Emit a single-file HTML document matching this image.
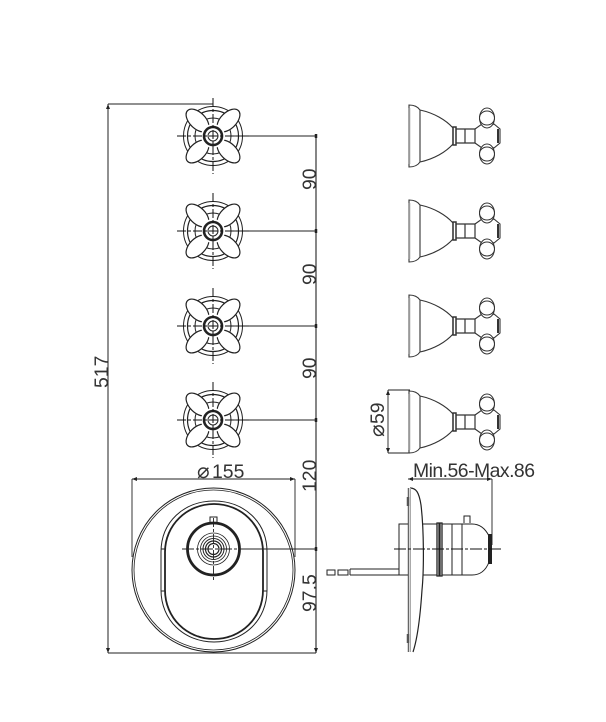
<!DOCTYPE html>
<html><head><meta charset="utf-8"><style>
html,body{margin:0;padding:0;background:#fff}
svg{display:block}
text{font-family:"Liberation Sans",sans-serif;font-size:19.4px;fill:#333}
</style></head><body>
<svg width="606" height="722" viewBox="0 0 606 722" xmlns="http://www.w3.org/2000/svg">
<defs>
<g id="f" fill="none" stroke="#222" stroke-width="1">
  <circle r="29.5"/><circle r="25.5" stroke-width="1.2"/><circle r="18"/>
  <g fill="#fff" stroke-width="1.2">
    <ellipse cx="15.500" cy="-15.500" rx="14" ry="8" transform="rotate(-45 15.500 -15.500)"/>
    <ellipse cx="-15.500" cy="-15.500" rx="14" ry="8" transform="rotate(45 -15.500 -15.500)"/>
    <ellipse cx="15.500" cy="15.500" rx="14" ry="8" transform="rotate(45 15.500 15.500)"/>
    <ellipse cx="-15.500" cy="15.500" rx="14" ry="8" transform="rotate(-45 -15.500 15.500)"/>
  </g>
  <circle r="12" fill="#fff" stroke="none"/>
  <circle r="9" stroke-width="2.6"/>
  <circle r="5" fill="#fff"/>
  <path d="M-36 0H36M0-38V38" stroke-dasharray="9 2 3 2" stroke="#111"/>
</g>
<g id="s" fill="none" stroke="#333" stroke-width="1">
  <path d="M409 -31C414 -31 418 -29 420 -26V26C418 29 414 31 409 31Z" stroke-width="1.1"/>
  <path d="M409.500 -28V28" stroke="#999" stroke-width="1.500"/>
  <path d="M420 -26C434 -23 446 -16 453 -8V8C446 16 434 23 420 26" stroke-width="1.1"/>
  <path d="M453 -9H456V9H453Z" stroke-width="1.500"/>
  <path d="M456 -7H475V7H456M465 -7V7" stroke-width="1.200"/>
  <path d="M475 -7L482 -12C486 -10 490 -10 494 -12L500 -7V7L494 12C490 10 486 10 482 12L475 7" stroke-width="1.100"/>
  <path d="M498 -7V7" stroke-width="2"/>
  <ellipse cx="487" cy="-18" rx="7.500" ry="10" fill="#fff"/>
  <ellipse cx="487" cy="18" rx="7.500" ry="10" fill="#fff"/>
  <ellipse cx="487" cy="-18" rx="7.500" ry="7"/>
  <ellipse cx="487" cy="18" rx="7.500" ry="7"/>
</g>
</defs>

<g stroke="#222" stroke-width="1" fill="none">
  <path d="M108 104V653M108 104H213M108 653H316"/>
  <path d="M316 136V653" stroke-width="1.100"/>
  <path d="M213 136H316M213 231H316M213 326H316M213 420H316M213 549H316"/>
  <path d="M132 479V557M295 479V557M132 479H295" stroke-width=".9"/>
  <path d="M408 479H492M492 479V545" stroke-width=".9"/>
  <path d="M388 390V453M388 390H410M388 453H410" stroke-width=".9"/>
  <path d="M316 134V138M316 229V233M316 324V328M316 418V422M316 547V551" stroke-width="2.500"/>
</g>
<g fill="#222">
  <path d="M108 104l-2 5h4zM108 653l-2-5h4zM132 479l5-2v4zM295 479l-5-2v4zM408 479l5-2v4zM492 479l-5-2v4zM388 390l-2 5h4zM388 453l-2-5h4zM316 653l-2-5h4z"/>
</g>

<use href="#f" x="213" y="136"/>
<use href="#f" x="213" y="231"/>
<use href="#f" x="213" y="326"/>
<use href="#f" x="213" y="420"/>

<use href="#s" x="0" y="136"/>
<use href="#s" x="0" y="231"/>
<use href="#s" x="0" y="326"/>
<use href="#s" x="0" y="422"/>

<!-- plate front -->
<g fill="none" stroke="#222">
  <ellipse cx="213.500" cy="570" rx="81.500" ry="82" stroke-width="1"/>
  <ellipse cx="213.500" cy="570" rx="79.500" ry="80" stroke-width=".8"/>
  <path d="M161 552C161 522 184 501 214 501C244 501 267 522 267 552V590C267 620 244 642 214 642C184 642 161 620 161 590Z" stroke-width="1"/>
  <path d="M165 552C165 525 187 504 214 504C241 504 263 525 263 552V590C263 618 241 639 214 639C187 639 165 618 165 590Z" stroke-width="1.800"/>
  <path d="M161 549H165M263 549H267M161 591H165M263 591H267" stroke-width="1"/>
  <path d="M210 522V517H217V522" stroke-width="1" fill="#fff"/>
  <circle cx="213.500" cy="549" r="26" stroke-width="2.800" fill="#fff"/>
  <circle cx="213.500" cy="549" r="16" stroke-width=".8"/>
  <circle cx="213.500" cy="549" r="13" stroke-width=".8"/>
  <circle cx="213.500" cy="549" r="10.500" stroke-width="1"/>
  <circle cx="213.500" cy="549" r="8" stroke-width="1.200"/>
  <circle cx="213.500" cy="549" r="5.500" stroke-width="1.200"/>
  <path d="M182 549H316" stroke-width="1" stroke-dasharray="12 2 3 2"/>
  <path d="M213.500 518V581" stroke-width=".9" stroke-dasharray="9 2 3 2"/>
</g>

<!-- plate side -->
<g fill="none" stroke="#222" stroke-width="1">
  <path d="M410 488C416 488 419 492 421 505C424 530 424 570 422 590C420 620 417 640 413 652" stroke-width="1.200"/>
  <path d="M408.500 488V652" stroke="#666" stroke-width="1.500"/>
  <path d="M410.500 488V652" stroke="#aaa"/>
  <path d="M408 497V506M408 634V643" stroke="#555" stroke-width="2.500"/>
  <path d="M408 524H399V575H408M399 569H350M399 575H350M327 570H335V575H327ZM338 570H348V575H338ZM350 569V575" stroke-width="1"/>
  <path d="M423 524H437V575H423" stroke-width="1"/>
  <path d="M437 523H439V576H437ZM440 523H442V576H440Z" stroke-width="1.300"/>
  <path d="M442 524H452V575H442" stroke-width="1"/>
  <path d="M452 524V575M462 524V575M452 524H472C481 524 486 530 489 536V562C486 570 481 575 472 575H452" stroke-width="1"/>
  <path d="M464 523V516H470V523" stroke-width="1"/>
  <path d="M490 534V564" stroke="#222" stroke-width="4"/>
  <path d="M394 549H501" stroke="#111" stroke-dasharray="12 2 3 2"/>
</g>

<text transform="translate(108 388) rotate(-90)">517</text>
<text transform="translate(316 190) rotate(-90)">90</text>
<text transform="translate(316 285) rotate(-90)">90</text>
<text transform="translate(316 379) rotate(-90)">90</text>
<text transform="translate(316 492) rotate(-90)">120</text>
<text transform="translate(316 612) rotate(-90)">97.5</text>
<text transform="translate(384 437) rotate(-90)"><tspan font-size="21">⌀</tspan><tspan x="13">59</tspan></text>
<text x="197" y="478"><tspan font-size="21">⌀</tspan><tspan x="212">155</tspan></text>
<text x="413" y="477" textLength="122">Min.56-Max.86</text>
</svg>
</body></html>
